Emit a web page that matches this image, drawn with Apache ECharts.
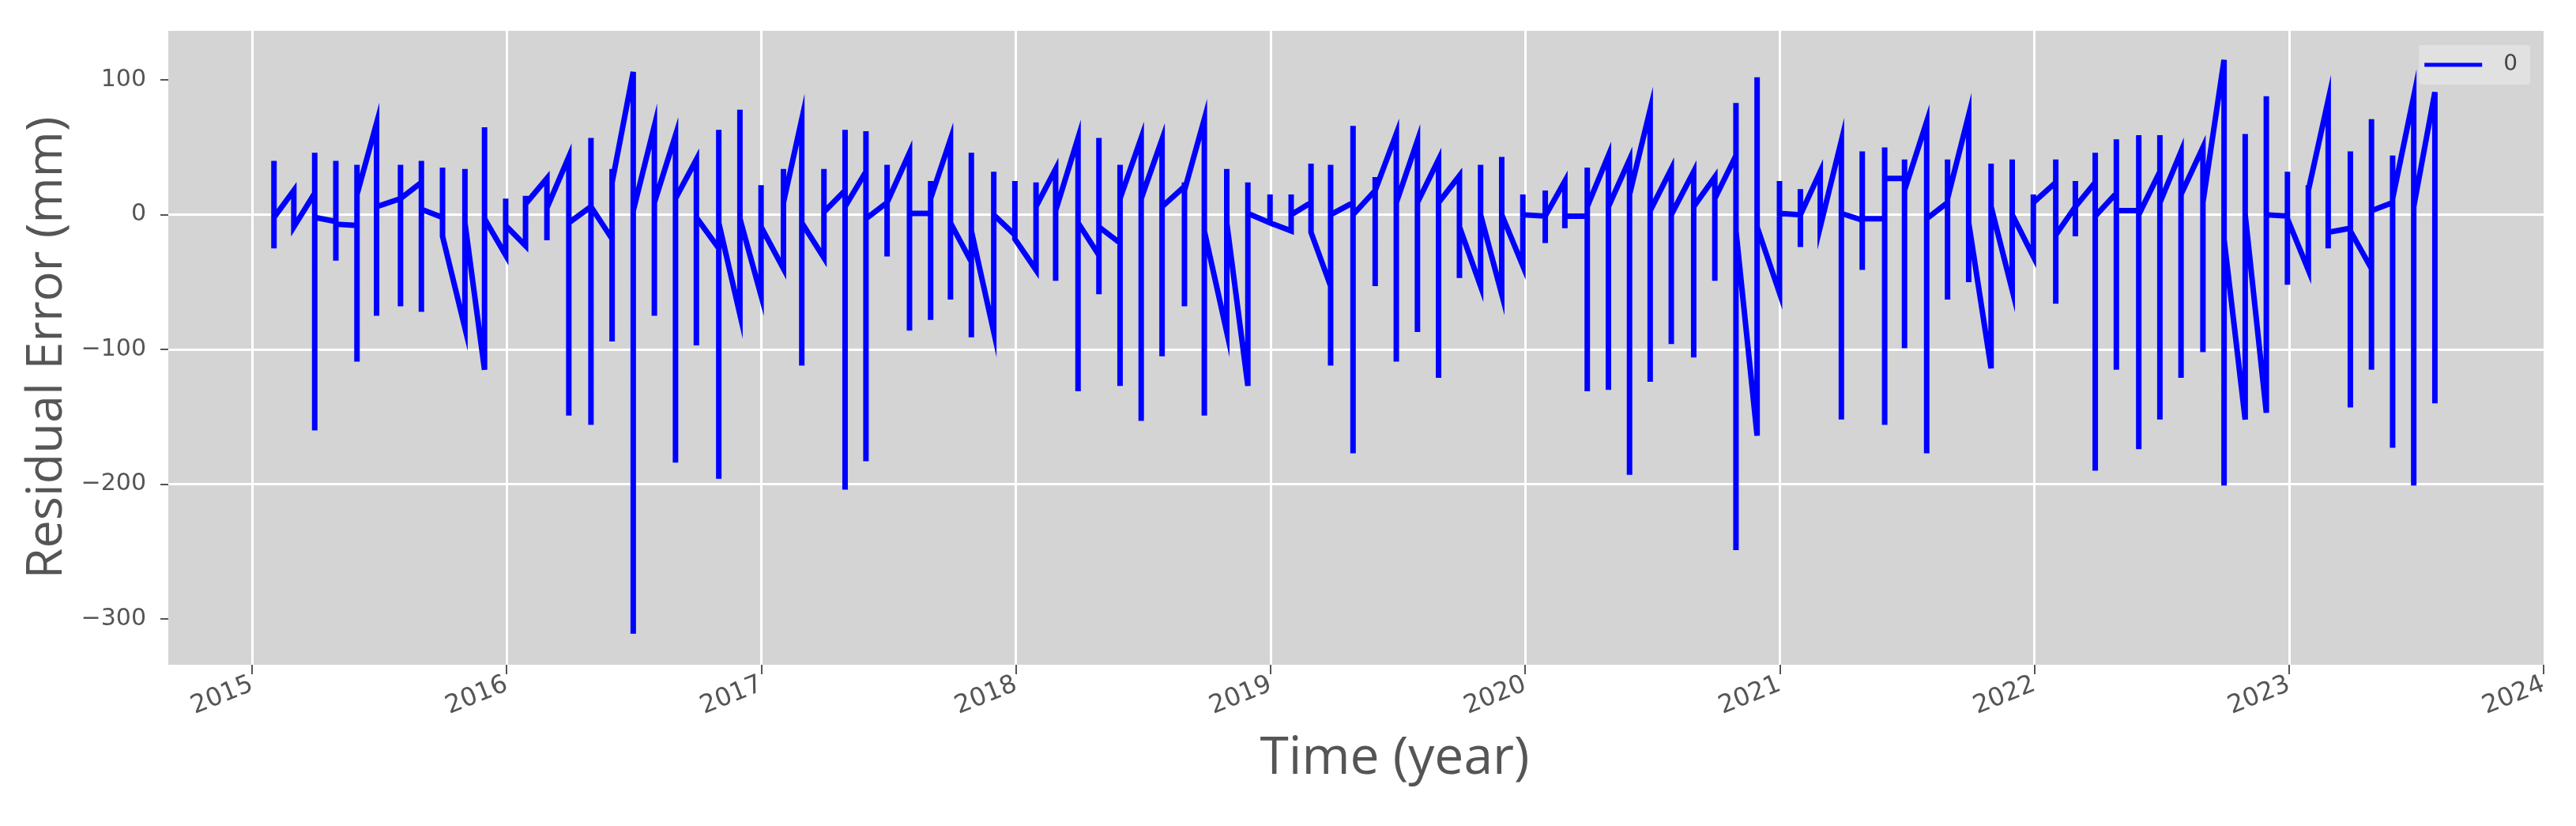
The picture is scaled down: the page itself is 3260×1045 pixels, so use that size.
<!DOCTYPE html>
<html>
<head>
<meta charset="utf-8">
<script src="https://cdn.jsdelivr.net/npm/echarts@6/dist/echarts.min.js"></script>
<style>
html,body{margin:0;padding:0;background:#ffffff;}
#chart{width:3260px;height:1045px;}
</style>
</head>
<body>
<div id="chart"></div>
<script>
// Acquisition times (decimal year), one per sampling epoch
const sampleYears = [
  2015.086, 2015.164, 2015.246, 2015.329, 2015.412, 2015.489, 2015.583, 2015.665, 2015.748, 2015.836,
  2015.913, 2015.996, 2016.074, 2016.158, 2016.244, 2016.331, 2016.414, 2016.497, 2016.580, 2016.663,
  2016.745, 2016.833, 2016.916, 2016.999, 2017.087, 2017.159, 2017.246, 2017.329, 2017.411, 2017.494,
  2017.582, 2017.665, 2017.743, 2017.825, 2017.913, 2017.996, 2018.079, 2018.156, 2018.244, 2018.326,
  2018.409, 2018.492, 2018.574, 2018.662, 2018.740, 2018.828, 2018.911, 2018.998, 2019.081, 2019.159,
  2019.236, 2019.324, 2019.411, 2019.494, 2019.577, 2019.660, 2019.742, 2019.825, 2019.908, 2019.991,
  2020.079, 2020.156, 2020.244, 2020.327, 2020.410, 2020.491, 2020.574, 2020.662, 2020.745, 2020.828,
  2020.911, 2020.999, 2021.081, 2021.159, 2021.242, 2021.324, 2021.412, 2021.490, 2021.577, 2021.659,
  2021.742, 2021.830, 2021.913, 2021.996, 2022.084, 2022.161, 2022.239, 2022.322, 2022.410, 2022.493,
  2022.576, 2022.662, 2022.745, 2022.828, 2022.911, 2022.994, 2023.076, 2023.154, 2023.241, 2023.324,
  2023.407, 2023.490, 2023.573
];

// Residual errors (mm) recorded at each epoch, in plotting order
const residualGroups = [
  [40, -25, -2], [18, -9], [16, 46, -160, -2], [-5, 40, -34, -7], [-8, 37, -109, 15],
  [68, -75, 6], [12, 37, -68, 12], [24, 40, -72, 4], [-2, 35, -16], [-84, 34, -6],
  [-115, 65, -3], [-30, 12, -8], [-23, 14, 8], [27, -19, 5], [43, -149, -6],
  [6, 57, -156, 6], [-18, 34, -94, 24], [106, -311, 3], [66, -75, 9], [59, -184, 12],
  [41, -97, -2], [-25, 63, -196, -6], [-74, 78, -3], [-60, 22, -9], [-40, 34, 9],
  [71, -112, -6], [-32, 34, 2], [18, 63, -204, 6], [32, 62, -183, -3], [9, 37, -31, 9],
  [46, -86, 1], [1, 25, -78, 12], [56, -63, -6], [-35, 46, -91, -12], [-87, 32, 0],
  [-15, 25, -18], [-41, 24, 6], [34, -49, 3], [57, -131, -6], [-30, 57, -59, -9],
  [-21, 37, -127, 12], [57, -153, 12], [56, -105, 6], [21, 24, -68, 18], [71, -149, -12],
  [-87, 34, -6], [-127, 24, 1], [-6, 15, -6], [-12, 15, 0], [9, 38, -13],
  [-53, 37, -112, 0], [9, 66, -177, 0], [18, 28, -53, 18], [60, -109, 9], [55, -87, 9],
  [41, -121, 9], [29, -47, -9], [-53, 37, 0], [-59, 43, 0], [-38, 15, 0],
  [-1, 18, -21, -1], [25, -10, -1], [-1, 35, -131, 6], [44, -130, 6], [41, -193, 15],
  [78, -124, 3], [34, -96, 0], [32, -106, 6], [28, -49, 12], [44, 83, -249, -12],
  [-164, 102, -9], [-58, 25, 1], [0, 19, -24, 0], [32, -9], [55, -152, 1],
  [-4, 47, -41, -3], [-3, 50, -156, 27], [27, 41, -99, 18], [69, -177, -3], [9, 41, -63, 12],
  [74, -50, -6], [-114, 38, 6], [-56, 41, 0], [-31, 15, 9], [24, 41, -66, -15],
  [6, 25, -16, 6], [24, 46, -190, -1], [16, 56, -115, 3], [3, 59, -174, 0], [32, 59, -152, 9],
  [47, -121, 15], [50, -102, 9], [115, -201, -18], [-152, 60, 0], [-147, 88, 0],
  [-1, 32, -52, -3], [-41, 22, 18], [85, -25, -13], [-10, 47, -143, -12], [-40, 71, -115, 3],
  [9, 44, -173, 12], [88, -201, 6], [91, -140]
];

const xTickYears = [2015, 2016, 2017, 2018, 2019, 2020, 2021, 2022, 2023, 2024];
const yTickValues = [-300, -200, -100, 0, 100];
const seriesName = '0';
const xAxisTitle = 'Time (year)';
const yAxisTitle = 'Residual Error (mm)';

const points = [];
sampleYears.forEach(function (t, i) {
  residualGroups[i].forEach(function (v) { points.push([t, v]); });
});

const chart = echarts.init(document.getElementById('chart'), null, {renderer: 'canvas'});
const tickColor = '#555555';
chart.setOption({
  animation: false,
  backgroundColor: '#ffffff',
  grid: {
    left: 213, right: 41, top: 39, bottom: 204,
    show: true, backgroundColor: '#d4d4d4', borderWidth: 0
  },
  legend: {
    data: [seriesName],
    right: 58, top: 57,
    backgroundColor: '#e1e1e1',
    borderRadius: 4,
    padding: [11, 16, 11, 7],
    icon: 'rect',
    itemWidth: 73, itemHeight: 5,
    textStyle: {fontFamily: 'DejaVu Sans', fontSize: 28, color: '#444444', padding: [0, 0, 0, 22]}
  },
  xAxis: {
    type: 'value',
    min: 2014.671, max: 2024,
    splitNumber: 9,
    name: xAxisTitle,
    nameLocation: 'middle',
    nameGap: 86,
    nameTextStyle: {fontFamily: 'Open Sans', fontSize: 66, color: '#555555', padding: [0, 0, 0, 98]},
    axisLine: {show: false, onZero: false},
    axisTick: {show: true, customValues: xTickYears, length: 12, lineStyle: {color: tickColor, width: 2}},
    axisLabel: {
      customValues: xTickYears, rotate: 22, margin: 24,
      fontFamily: 'DejaVu Sans', fontSize: 32, color: tickColor,
      formatter: function (v) { return String(Math.round(v)); }
    },
    splitLine: {show: true, showMinLine: true, showMaxLine: false, lineStyle: {color: '#ffffff', width: 3}}
  },
  yAxis: {
    type: 'value',
    min: -334, max: 136.5,
    splitNumber: 5,
    name: yAxisTitle,
    nameLocation: 'middle',
    nameGap: 108,
    nameTextStyle: {fontFamily: 'Open Sans', fontSize: 63, color: '#555555'},
    axisLine: {show: false, onZero: false},
    axisTick: {show: true, customValues: yTickValues, length: 10, lineStyle: {color: tickColor, width: 2}},
    axisLabel: {
      customValues: yTickValues, margin: 28,
      fontFamily: 'DejaVu Sans', fontSize: 30, color: tickColor,
      formatter: function (v) { return v < 0 ? '\u2212' + Math.abs(v) : String(v); }
    },
    splitLine: {show: true, showMinLine: false, showMaxLine: false, lineStyle: {color: '#ffffff', width: 3}}
  },
  series: [{
    name: seriesName,
    type: 'line',
    data: points,
    showSymbol: false,
    symbol: 'none',
    lineStyle: {color: '#0000ff', width: 7, join: 'miter'},
    itemStyle: {color: '#0000ff'}
  }]
});
</script>
</body>
</html>
